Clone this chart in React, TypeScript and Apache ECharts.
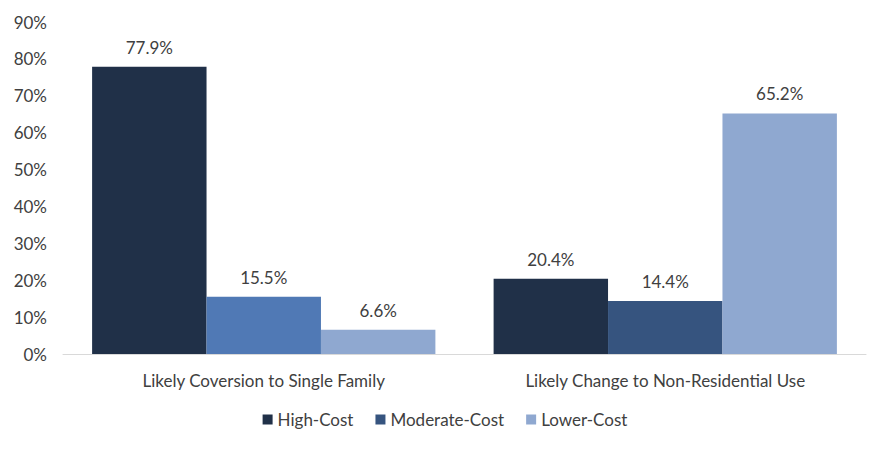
import React, { useEffect, useRef } from "react";
import * as echarts from "echarts";

const categories = ["Likely Coversion to Single Family", "Likely Change to Non-Residential Use"];
const seriesNames = ["High-Cost", "Moderate-Cost", "Lower-Cost"];
const highCost = [77.9, 20.4];
const moderateCost = [15.5, 14.4];
const lowerCost = [6.6, 65.2];
const yTicks = [0, 10, 20, 30, 40, 50, 60, 70, 80, 90];

const COLORS = ["#203048", "#36547f", "#8fa8d0"];
const MODERATE_FIRST = "#5079b5";
const FONT = "Lato";
const FS = 17;

export default function App() {
  const ref = useRef<HTMLDivElement>(null);
  useEffect(() => {
    const chart = echarts.init(ref.current!, null, { renderer: "svg" });
    const label = {
      show: true,
      position: "top",
      distance: 11,
      formatter: (p: any) => p.value.toFixed(1) + "%",
      color: "#404040",
      fontFamily: FONT,
      fontSize: FS,
    };
    const datas = [highCost, moderateCost, lowerCost];
    chart.setOption({
      animation: false,
      color: COLORS,
      textStyle: { fontFamily: FONT },
      legend: {
        top: 406,
        left: "center",
        itemWidth: 10,
        itemHeight: 10,
        itemGap: 22,
        icon: "rect",
        textStyle: { fontFamily: FONT, fontSize: FS, color: "#404040" },
        data: seriesNames,
      },
      grid: { left: 63, right: 24, top: 22, bottom: 97, containLabel: false },
      xAxis: {
        type: "category",
        data: categories,
        axisLine: { lineStyle: { color: "#d9d9d9", width: 1 } },
        axisTick: { show: false },
        axisLabel: { fontFamily: FONT, fontSize: FS, color: "#404040", margin: 18 },
      },
      yAxis: {
        type: "value",
        min: 0,
        max: 90,
        interval: 10,
        splitLine: { show: false },
        axisLine: { show: false },
        axisTick: { show: false },
        axisLabel: {
          fontFamily: FONT,
          fontSize: FS,
          color: "#404040",
          margin: 16,
          formatter: (v: number) => (yTicks.includes(v) ? v + "%" : ""),
        },
      },
      series: seriesNames.map((name, i) => ({
        name,
        type: "bar",
        barGap: "0%",
        barCategoryGap: "14.5%",
        data: datas[i].map((v, j) =>
          i === 1 && j === 0 ? { value: v, itemStyle: { color: MODERATE_FIRST } } : v
        ),
        label,
      })),
    });
    return () => chart.dispose();
  }, []);
  return (
    <div
      ref={ref}
      style={{ position: "absolute", left: 0, top: 0, width: 890, height: 451 }}
    />
  );
}
